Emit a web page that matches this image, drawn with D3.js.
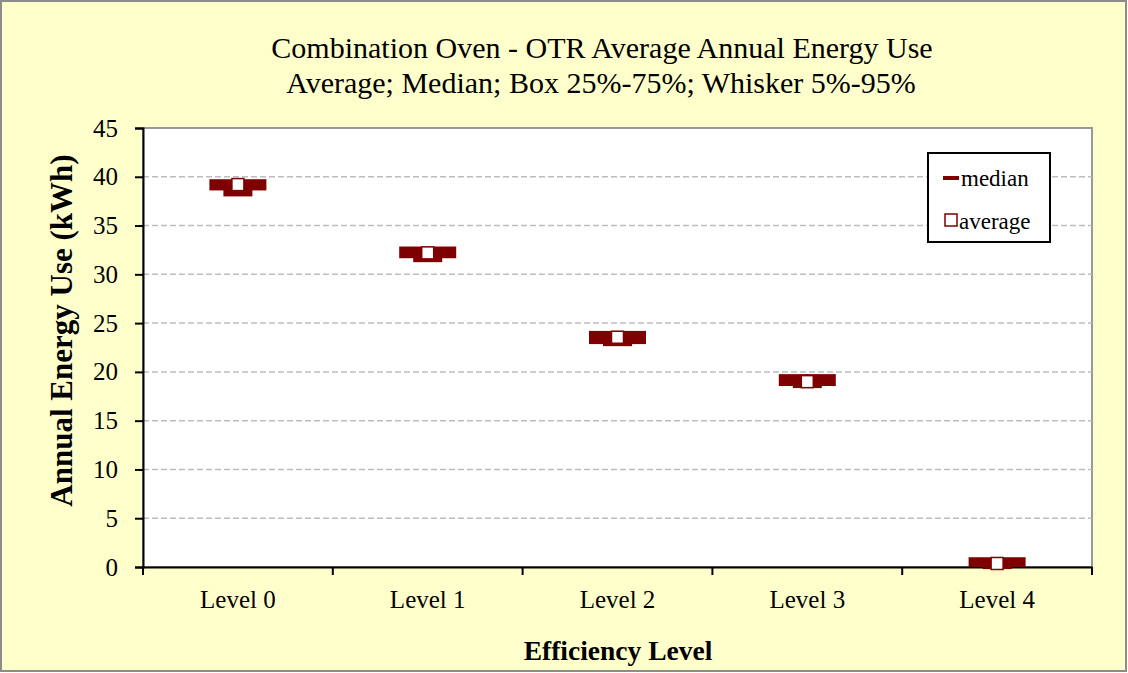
<!DOCTYPE html>
<html>
<head>
<meta charset="utf-8">
<script src="https://cdn.jsdelivr.net/npm/d3@7"></script>
<style>
  body { margin: 0; background: #fff; }
  svg text { font-family: "Liberation Serif", "Times New Roman", serif; }
</style>
</head>
<body>
<div id="chart"></div>
<script>
const levels = ["Level 0", "Level 1", "Level 2", "Level 3", "Level 4"];
const q75 = [39.75, 32.85, 24.2, 19.77, 1.0];
const q25 = [38.6, 31.65, 22.85, 18.55, 0.0];
const medians = [38.5, 31.76, 23.15, 18.85, 0.3];
const averages = [39.2, 32.2, 23.55, 19.0, 0.36];
const p95 = [39.75, 32.85, 24.2, 19.77, 1.0];
const p5 = [38.6, 31.65, 22.85, 18.55, 0.0];
const yTicks = [0, 5, 10, 15, 20, 25, 30, 35, 40, 45];

const width = 1128;
const height = 673;
const margin = { top: 128, right: 36, bottom: 106, left: 143 };
const dark = "#7f0000";

const svg = d3.select("#chart")
  .append("svg")
  .attr("width", width)
  .attr("height", height);

// outer frame
svg.append("rect")
  .attr("x", 1).attr("y", 1)
  .attr("width", width - 3).attr("height", height - 3)
  .attr("fill", "#ffffcc")
  .attr("stroke", "#8c8c8c")
  .attr("stroke-width", 2);

const x = d3.scaleBand()
  .domain(levels)
  .range([margin.left, width - margin.right]);

const y = d3.scaleLinear()
  .domain([0, 45])
  .range([height - margin.bottom, margin.top]);

// plot area
svg.append("rect")
  .attr("x", margin.left).attr("y", margin.top)
  .attr("width", width - margin.left - margin.right)
  .attr("height", height - margin.top - margin.bottom)
  .attr("fill", "#fff")
  .attr("stroke", "#999")
  .attr("stroke-width", 2);

// grid
svg.append("g")
  .selectAll("line")
  .data(yTicks.filter(d => d > 0 && d < 45))
  .enter()
  .append("line")
  .attr("x1", margin.left).attr("x2", width - margin.right)
  .attr("y1", d => y(d)).attr("y2", d => y(d))
  .attr("stroke", "#bdbdbd")
  .attr("stroke-width", 1.5)
  .attr("stroke-dasharray", "6,3");

// y axis
const yAxis = svg.append("g")
  .attr("transform", "translate(" + margin.left + ",0)")
  .call(d3.axisLeft(y).tickValues(yTicks).tickSize(8).tickPadding(17));
yAxis.select(".domain").attr("stroke", "#000").attr("stroke-width", 2);
yAxis.selectAll(".tick line").attr("stroke", "#000").attr("stroke-width", 2);
yAxis.selectAll("text")
  .attr("font-size", 25)
  .attr("fill", "#000")
  .style("font-family", "Liberation Serif, serif");

// x axis
const xAxis = svg.append("g")
  .attr("transform", "translate(0," + (height - margin.bottom) + ")")
  .call(d3.axisBottom(x).tickSize(0).tickPadding(23));
xAxis.select(".domain").attr("stroke", "#000").attr("stroke-width", 2);
xAxis.selectAll("text")
  .attr("font-size", 25)
  .attr("fill", "#000")
  .style("font-family", "Liberation Serif, serif");

// x tick marks at category edges
const edges = levels.map(d => x(d)).concat([x.range()[1]]);
svg.append("g")
  .selectAll("line")
  .data(edges)
  .enter()
  .append("line")
  .attr("x1", d => d).attr("x2", d => d)
  .attr("y1", height - margin.bottom).attr("y2", height - margin.bottom + 8)
  .attr("stroke", "#000")
  .attr("stroke-width", 2);

// boxes
const boxW = 57;
const medW = 29;
const g = svg.append("g");

levels.forEach((lvl, i) => {
  const cx = x(lvl) + x.bandwidth() / 2;
  g.append("line")
    .attr("x1", cx).attr("x2", cx)
    .attr("y1", y(p95[i])).attr("y2", y(p5[i]))
    .attr("stroke", dark).attr("stroke-width", 2);
  g.append("rect")
    .attr("x", cx - boxW / 2)
    .attr("y", y(q75[i]))
    .attr("width", boxW)
    .attr("height", Math.max(y(q25[i]) - y(q75[i]), 1))
    .attr("fill", dark);
  g.append("rect")
    .attr("x", cx - medW / 2)
    .attr("y", y(medians[i]) - 5)
    .attr("width", medW)
    .attr("height", 10)
    .attr("fill", dark);
  g.append("rect")
    .attr("x", cx - 6)
    .attr("y", y(averages[i]) - 6)
    .attr("width", 12)
    .attr("height", 12)
    .attr("fill", "#fff")
    .attr("stroke", dark)
    .attr("stroke-width", 1.5);
});

// titles
svg.append("text")
  .attr("x", 602).attr("y", 58)
  .attr("text-anchor", "middle")
  .attr("font-size", 30)
  .text("Combination Oven - OTR Average Annual Energy Use");
svg.append("text")
  .attr("x", 601).attr("y", 93)
  .attr("text-anchor", "middle")
  .attr("font-size", 30)
  .text("Average; Median; Box 25%-75%; Whisker 5%-95%");

svg.append("text")
  .attr("x", 618).attr("y", 660)
  .attr("text-anchor", "middle")
  .attr("font-size", 27.5)
  .attr("font-weight", "bold")
  .text("Efficiency Level");

svg.append("text")
  .attr("transform", "translate(72," + ((margin.top + height - margin.bottom) / 2 - 17) + ") rotate(-90)")
  .attr("text-anchor", "middle")
  .attr("font-size", 31)
  .attr("font-weight", "bold")
  .text("Annual Energy Use (kWh)");

// legend
const lg = svg.append("g").attr("transform", "translate(928,153)");
lg.append("rect")
  .attr("width", 122).attr("height", 89)
  .attr("fill", "#fff")
  .attr("stroke", "#000")
  .attr("stroke-width", 2);
lg.append("line")
  .attr("x1", 15).attr("x2", 31)
  .attr("y1", 25).attr("y2", 25)
  .attr("stroke", dark).attr("stroke-width", 4);
lg.append("text")
  .attr("x", 33).attr("y", 33)
  .attr("font-size", 23)
  .text("median");
lg.append("rect")
  .attr("x", 17).attr("y", 61)
  .attr("width", 12).attr("height", 12)
  .attr("fill", "#fff")
  .attr("stroke", dark).attr("stroke-width", 1.5);
lg.append("text")
  .attr("x", 31).attr("y", 76)
  .attr("font-size", 23)
  .text("average");
</script>
</body>
</html>
